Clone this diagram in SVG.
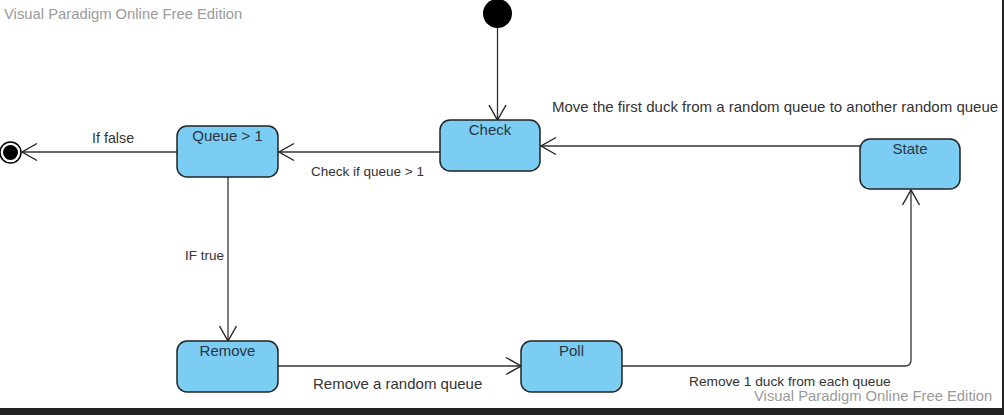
<svg xmlns="http://www.w3.org/2000/svg" width="1004" height="415" viewBox="0 0 1004 415">
<defs>
<marker id="open" markerUnits="userSpaceOnUse" markerWidth="20" markerHeight="20" viewBox="-16 -10 18 20" refX="0" refY="0" orient="auto">
<path d="M-15,-8.5 L0,0 L-15,8.5" fill="none" stroke="#222" stroke-width="1.4"/>
</marker>
<style>
.node rect{fill:#7bcdf3;stroke:#222;stroke-width:1.5}
.nl{font-family:"Liberation Sans",Arial,sans-serif;font-size:15px;fill:#2b3440;text-anchor:middle}
.lbl{font-family:"Liberation Sans",Arial,sans-serif;fill:#333}
.wm{font-family:"Liberation Sans",Arial,sans-serif;font-size:14.8px;fill:#9a9a9a}
.edge{fill:none;stroke:#333;stroke-width:1.3;marker-end:url(#open)}
</style>
</defs>
<rect x="0" y="0" width="1004" height="415" fill="#ffffff"/>
<text class="wm" x="4" y="19">Visual Paradigm Online Free Edition</text>

<g id="connectors">
<path class="edge" d="M497.5,28 L497.5,120"/>
<path class="edge" d="M177,152 L22,152"/>
<path class="edge" d="M440,152 L279,152"/>
<path class="edge" d="M860,146 L541,146"/>
<path class="edge" d="M228,177 L228,341"/>
<path class="edge" d="M278,366 L521,366"/>
<path class="edge" d="M622,366 L905,366 Q911,366 911,360 L911,190"/>
</g>

<g id="labels">
<text class="lbl" x="92" y="143" font-size="14.3">If false</text>
<text class="lbl" x="311" y="176" font-size="13.5">Check if queue &gt; 1</text>
<text class="lbl" x="552" y="112" font-size="15">Move the first duck from a random queue to another random queue</text>
<text class="lbl" x="224" y="260" font-size="13.5" text-anchor="end">IF true</text>
<text class="lbl" x="313" y="389" font-size="15">Remove a random queue</text>
<text class="lbl" x="689" y="386" font-size="13.7">Remove 1 duck from each queue</text>
</g>

<g id="initial">
<circle cx="497.5" cy="13.5" r="14.5" fill="#000"/>
</g>
<g id="final">
<circle cx="10.5" cy="152.5" r="10.5" fill="#fff" stroke="#000" stroke-width="1.5"/>
<circle cx="10.5" cy="152.5" r="7.5" fill="#000"/>
</g>
<g id="queue" class="node">
<rect x="177" y="126" width="101" height="51" rx="10"/>
<text class="nl" x="227.5" y="141">Queue &gt; 1</text>
</g>
<g id="check" class="node">
<rect x="440" y="120" width="100" height="51" rx="10"/>
<text class="nl" x="490" y="135">Check</text>
</g>
<g id="state" class="node">
<rect x="860" y="139" width="100" height="50" rx="10"/>
<text class="nl" x="910" y="154">State</text>
</g>
<g id="remove" class="node">
<rect x="177" y="341" width="101" height="51" rx="10"/>
<text class="nl" x="227.5" y="356">Remove</text>
</g>
<g id="poll" class="node">
<rect x="521" y="341" width="101" height="51" rx="10"/>
<text class="nl" x="571.5" y="356">Poll</text>
</g>

<text class="wm" x="754" y="401">Visual Paradigm Online Free Edition</text>
<rect x="0" y="408" width="1004" height="7" fill="#222"/>
<rect x="1002" y="0" width="2" height="408" fill="#222"/>
</svg>
